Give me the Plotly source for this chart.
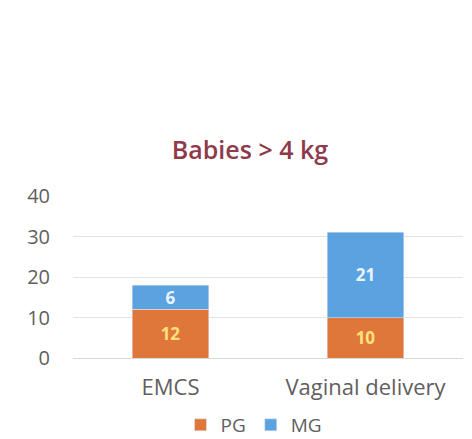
import plotly.graph_objects as go

categories = ["EMCS", "Vaginal delivery"]
pg_values = [12, 10]
mg_values = [6, 21]
y_ticks = [0, 10, 20, 30, 40]

# The page body adds an 8px offset, so the figure is sized to the visible area
W, H = 464, 431

fig = go.Figure()
fig.add_trace(go.Bar(
    name="PG", x=categories, y=pg_values, marker_color="#E0773A",
    text=pg_values, textposition="inside", insidetextanchor="middle", textangle=0,
    constraintext="none",
    textfont=dict(color="#FFE27A", size=17, family="Open Sans", weight="bold"),
))
fig.add_trace(go.Bar(
    name="MG", x=categories, y=mg_values, marker_color="#5AA2E0",
    text=mg_values, textposition="inside", insidetextanchor="middle", textangle=0,
    constraintext="none",
    textfont=dict(color="#EAF4FF", size=17, family="Open Sans", weight="bold"),
))

fig.update_layout(
    barmode="stack",
    bargap=0.61,
    width=W, height=H,
    margin=dict(l=65, r=9, t=188, b=81, autoexpand=False),
    paper_bgcolor="white", plot_bgcolor="white",
    font=dict(family="Open Sans", color="#606060", size=19),
    title=dict(text="Babies > 4 kg", xref="container", x=242 / W, xanchor="center",
               yref="container", y=1 - 142 / H, yanchor="middle",
               font=dict(size=25, color="#8E3A4A", family="Open Sans", weight=600)),
    showlegend=True,
    legend=dict(orientation="h", xref="container", x=246 / W, xanchor="center",
                yref="container", y=1 - 417 / H, yanchor="middle",
                font=dict(size=19, color="#606060"), traceorder="normal",
                itemwidth=30),
)
fig.update_yaxes(range=[0, 40], tickvals=y_ticks, gridcolor="#E3E3E3", gridwidth=1,
                 zeroline=False, showline=False, ticks="", ticklabelstandoff=22,
                 automargin=False, tickfont=dict(size=20, color="#606060"))
fig.update_xaxes(showline=True, linecolor="#DADADA", linewidth=1, ticks="",
                 ticklabelstandoff=10, automargin=False,
                 tickfont=dict(size=22, color="#606060"))

fig.write_html("out.html")
